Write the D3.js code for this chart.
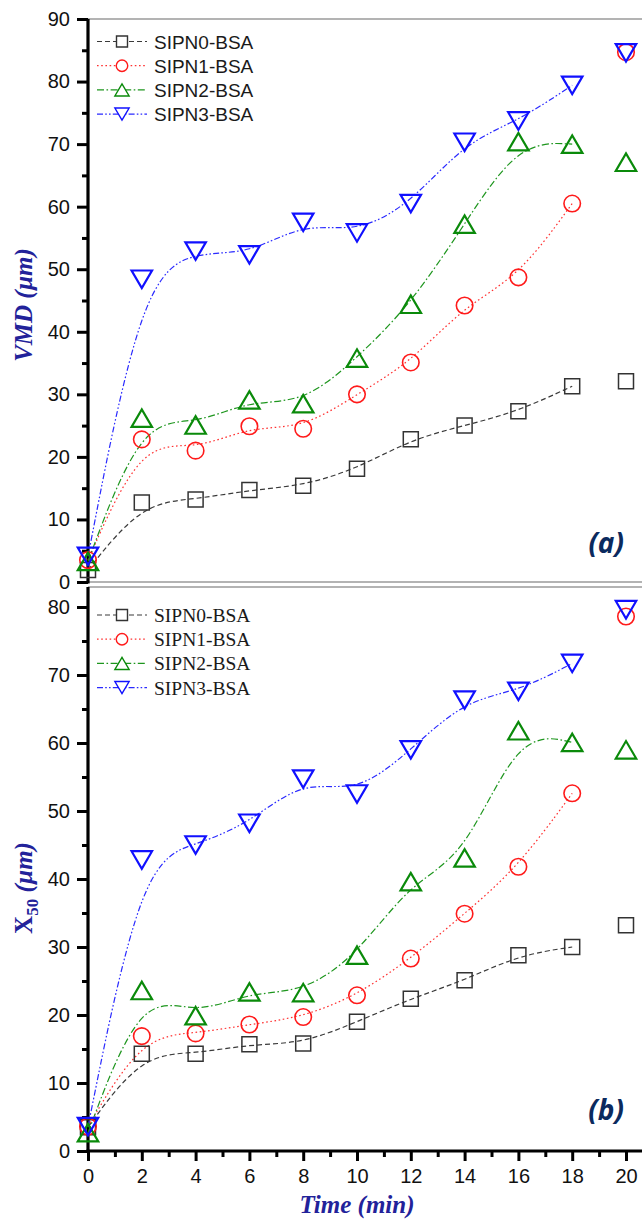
<!DOCTYPE html>
<html>
<head>
<meta charset="utf-8">
<title>VMD and X50 vs time</title>
<script src="https://cdn.jsdelivr.net/npm/d3@7"></script>
<style>
  body { margin: 0; background: #fff; }
  svg { display: block; }
  .tick text { font-family: "Liberation Sans", Arial, sans-serif; font-size: 20px; fill: #111; }
</style>
</head>
<body>
<div id="chart"></div>
<script>

// data
var times = [0, 2, 4, 6, 8, 10, 12, 14, 16, 18, 20];
var seriesNames = ["SIPN0-BSA", "SIPN1-BSA", "SIPN2-BSA", "SIPN3-BSA"];

// panel (a) VMD (um)
var vmd0 = [1.9, 12.7, 13.2, 14.7, 15.4, 18.1, 22.8, 25.0, 27.3, 31.3, 32.1];
var vmd1 = [3.5, 22.8, 21.0, 24.9, 24.5, 30.0, 35.1, 44.2, 48.7, 60.5, 84.7];
var vmd2 = [3.3, 26.2, 25.1, 29.1, 28.5, 35.8, 44.4, 57.2, 70.4, 70.0, 67.1];
var vmd3 = [4.1, 48.4, 52.9, 52.3, 57.5, 55.8, 60.5, 70.3, 73.7, 79.4, 84.6];

// panel (b) X50 (um)
var x50_0 = [3.5, 14.3, 14.3, 15.7, 15.8, 19.0, 22.4, 25.1, 28.8, 30.0, 33.2];
var x50_1 = [3.6, 16.9, 17.3, 18.6, 19.7, 22.9, 28.3, 34.9, 41.8, 52.6, 78.6];
var x50_2 = [2.7, 23.6, 19.9, 23.4, 23.3, 28.8, 39.6, 43.1, 61.8, 60.1, 59.0];
var x50_3 = [3.6, 42.8, 45.0, 48.2, 54.7, 52.5, 59.0, 66.3, 67.6, 71.7, 79.6];

// the fitted curves stop at 18 min
var fitEnd = 18;

var W = 642, H = 1220;
var svg = d3.select("#chart").append("svg").attr("width", W).attr("height", H);

var x = d3.scaleLinear().domain([0, 20]).range([88, 626]);
var yA = d3.scaleLinear().domain([0, 90]).range([582, 19]);
var yB = d3.scaleLinear().domain([0, 80]).range([1151, 607]);

var styles = [
  {color: "#333333", line: "#3a3a3a", dash: "5,3", marker: "square"},
  {color: "#ff1a1a", line: "#ff3030", dash: "1.6,2.6", marker: "circle"},
  {color: "#0a8a0a", line: "#1e961e", dash: "7,2.5,1.6,2.5", marker: "up"},
  {color: "#1010ff", line: "#2a2aff", dash: "6,2.2,1.6,2.2,1.6,2.2", marker: "down"}
];

function markerPath(kind, s) {
  // s = nominal marker size in px
  if (kind === "square") {
    var h = s / 2;
    return "M" + (-h) + "," + (-h) + "H" + h + "V" + h + "H" + (-h) + "Z";
  }
  if (kind === "circle") {
    var r = s / 2;
    return "M" + r + ",0A" + r + "," + r + " 0 1,1 " + (-r) + ",0A" + r + "," + r + " 0 1,1 " + r + ",0Z";
  }
  var w = s * 0.62, hh = s * 0.53;
  if (kind === "up") return "M" + (-w) + "," + hh + "L" + w + "," + hh + "L0," + (-hh) + "Z";
  return "M" + (-w) + "," + (-hh) + "L" + w + "," + (-hh) + "L0," + hh + "Z";
}

var markerSize = {square: 15, circle: 16.5, up: 16.5, down: 16.5};
var markerStroke = {square: 1.5, circle: 1.6, up: 2.2, down: 2.2};

function drawPanel(opts) {
  var g = svg.append("g");
  var y = opts.y;

  // grey frame lines
  g.append("line").attr("x1", 88).attr("x2", W).attr("y1", opts.top).attr("y2", opts.top)
    .attr("stroke", "#9a9a9a").attr("stroke-width", 1.5);
  if (opts.bottomGrey) {
    g.append("line").attr("x1", 88).attr("x2", W).attr("y1", y(0)).attr("y2", y(0))
      .attr("stroke", "#9a9a9a").attr("stroke-width", 1.5);
  }

  // y axis, major + minor
  var majors = d3.range(0, opts.yMax + 1, 10);
  var minors = d3.range(5, opts.yMax, 10);
  var yAxis = g.append("g").attr("transform", "translate(88,0)")
    .call(d3.axisLeft(y).tickValues(majors).tickSize(11).tickPadding(7).tickSizeOuter(0));
  yAxis.select(".domain").remove();
  yAxis.selectAll(".tick line").attr("stroke", "#000").attr("stroke-width", 3);
  var yMinor = g.append("g").attr("transform", "translate(88,0)")
    .call(d3.axisLeft(y).tickValues(minors).tickSize(6).tickFormat(""));
  yMinor.select(".domain").remove();
  yMinor.selectAll(".tick line").attr("stroke", "#000").attr("stroke-width", 3);
  g.append("line").attr("x1", 88).attr("x2", 88).attr("y1", opts.top).attr("y2", y(0) + 1.5)
    .attr("stroke", "#000").attr("stroke-width", 3.2);

  // curves
  var line = d3.line()
    .x(function(d) { return x(d[0]); })
    .y(function(d) { return y(d[1]); })
    .curve(d3.curveBasis);

  opts.series.forEach(function(vals, i) {
    var pts = times.map(function(t, j) { return [t, vals[j]]; });
    g.append("path")
      .datum(pts.filter(function(p) { return p[0] <= fitEnd; }))
      .attr("d", line)
      .attr("fill", "none")
      .attr("stroke", styles[i].line)
      .attr("stroke-width", 1.2)
      .attr("stroke-dasharray", styles[i].dash);
  });

  // markers
  opts.series.forEach(function(vals, i) {
    var st = styles[i];
    g.append("g").selectAll("path")
      .data(times.map(function(t, j) { return [t, vals[j]]; }))
      .enter().append("path")
      .attr("transform", function(d) { return "translate(" + x(d[0]) + "," + y(d[1]) + ")"; })
      .attr("d", markerPath(st.marker, markerSize[st.marker]))
      .attr("fill", "none")
      .attr("stroke", st.color)
      .attr("stroke-width", markerStroke[st.marker]);
  });

  // legend
  var lg = g.append("g");
  seriesNames.forEach(function(name, i) {
    var st = styles[i];
    var ly = opts.legendY + i * 24.2;
    lg.append("line").attr("x1", 97).attr("x2", 147).attr("y1", ly).attr("y2", ly)
      .attr("stroke", st.line).attr("stroke-width", 1.2).attr("stroke-dasharray", st.dash);
    lg.append("path").attr("transform", "translate(122," + ly + ")")
      .attr("d", markerPath(st.marker, st.marker === "square" ? 11 : 11.5))
      .attr("fill", "#fff").attr("stroke", st.color).attr("stroke-width", 1.4);
    lg.append("text").attr("x", 154).attr("y", ly + 7)
      .style("font-family", opts.legendFont).style("font-size", opts.legendSize)
      .attr("fill", "#1a1a1a").text(name);
  });

  // panel tag
  g.append("text").attr("x", 624).attr("y", opts.tagY).attr("text-anchor", "end")
    .style("font-family", "'Open Sans', sans-serif").style("font-weight", 700)
    .style("font-style", "italic").style("font-size", "28px").attr("fill", "#0b2a5e")
    .text(opts.tag);

  return g;
}

drawPanel({
  y: yA, yMax: 90, top: 19, bottomGrey: true,
  series: [vmd0, vmd1, vmd2, vmd3],
  legendY: 41.5, legendFont: "'Liberation Sans', Arial, sans-serif", legendSize: "19px",
  tag: "(a)", tagY: 553
});

drawPanel({
  y: yB, yMax: 80, top: 587, bottomGrey: false,
  series: [x50_0, x50_1, x50_2, x50_3],
  legendY: 615, legendFont: "'Liberation Serif', 'Times New Roman', serif", legendSize: "19.5px",
  tag: "(b)", tagY: 1120
});

// bottom x axis
var xMajor = d3.range(0, 21, 2);
var xMinor = d3.range(1, 20, 2);
var xa = svg.append("g").attr("transform", "translate(0,1151)")
  .call(d3.axisBottom(x).tickValues(xMajor).tickSize(10).tickPadding(8).tickSizeOuter(0));
xa.select(".domain").remove();
xa.selectAll(".tick line").attr("stroke", "#000").attr("stroke-width", 3);
var xm = svg.append("g").attr("transform", "translate(0,1151)")
  .call(d3.axisBottom(x).tickValues(xMinor).tickSize(6).tickFormat(""));
xm.select(".domain").remove();
xm.selectAll(".tick line").attr("stroke", "#000").attr("stroke-width", 3);
svg.append("line").attr("x1", 86.4).attr("x2", W).attr("y1", 1151).attr("y2", 1151)
  .attr("stroke", "#000").attr("stroke-width", 3.2);

// axis titles
var titleColor = "#22229a";
var titleFont = "'Liberation Serif', 'Times New Roman', serif";

svg.append("text").attr("transform", "translate(32,305) rotate(-90)")
  .attr("text-anchor", "middle")
  .style("font-family", titleFont).style("font-weight", 700).style("font-style", "italic")
  .style("font-size", "25px").attr("fill", titleColor)
  .text("VMD (\u00b5m)");

var x50t = svg.append("text").attr("transform", "translate(32,888) rotate(-90)")
  .attr("text-anchor", "middle")
  .style("font-family", titleFont).style("font-weight", 700).style("font-size", "25px")
  .attr("fill", titleColor);
x50t.append("tspan").text("X");
x50t.append("tspan").attr("dy", 6).style("font-size", "17px").text("50");
x50t.append("tspan").attr("dy", -6).style("font-style", "italic").text(" (\u00b5m)");

svg.append("text").attr("x", 357).attr("y", 1213).attr("text-anchor", "middle")
  .style("font-family", titleFont).style("font-weight", 700).style("font-style", "italic")
  .style("font-size", "25px").attr("fill", titleColor)
  .text("Time (min)");

</script>
</body>
</html>
